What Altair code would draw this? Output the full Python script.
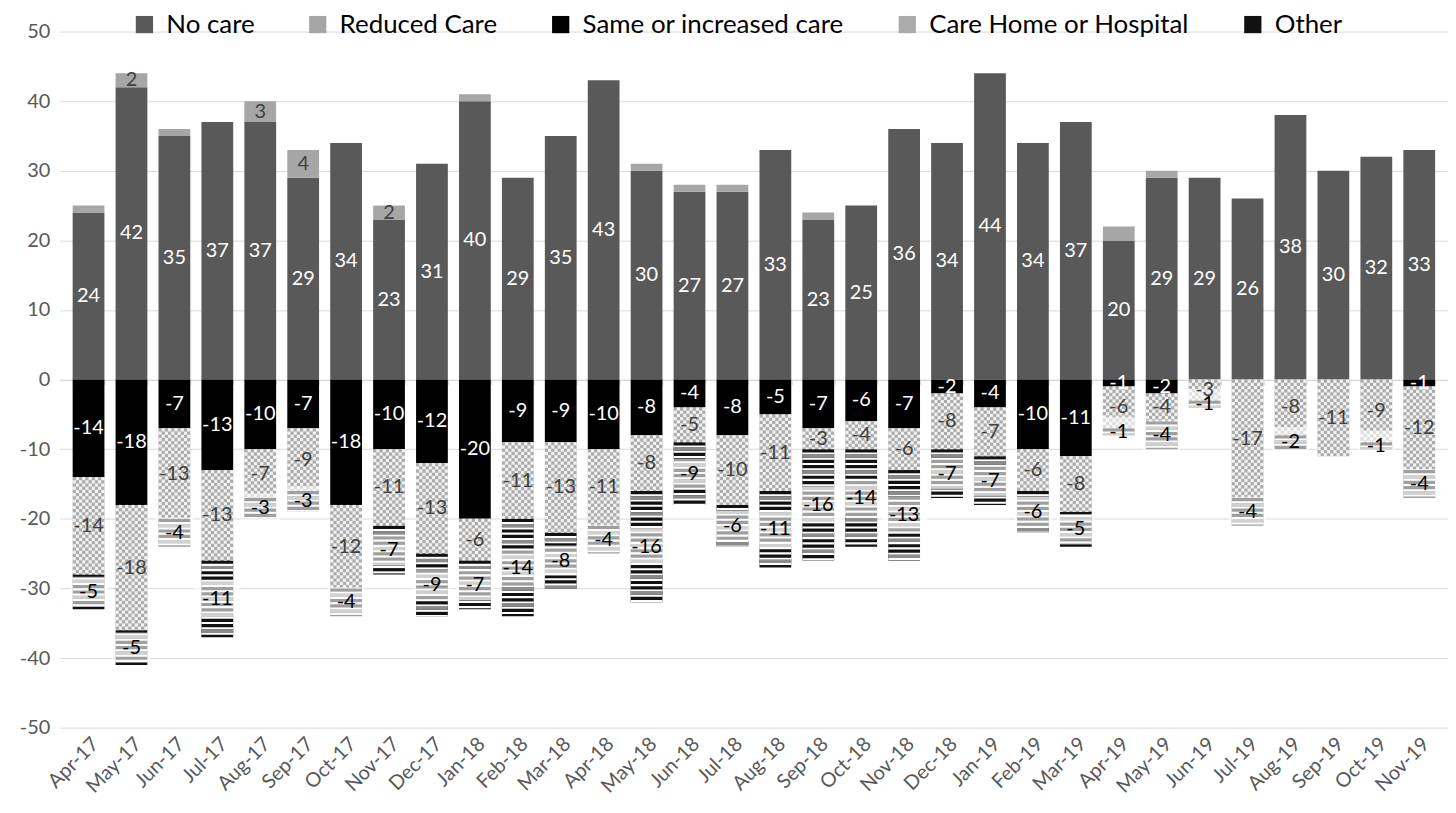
import math
import altair as alt
import pandas as pd

months = ["Apr-17", "May-17", "Jun-17", "Jul-17", "Aug-17", "Sep-17", "Oct-17", "Nov-17", "Dec-17",
          "Jan-18", "Feb-18", "Mar-18", "Apr-18", "May-18", "Jun-18", "Jul-18", "Aug-18", "Sep-18",
          "Oct-18", "Nov-18", "Dec-18", "Jan-19", "Feb-19", "Mar-19", "Apr-19", "May-19", "Jun-19",
          "Jul-19", "Aug-19", "Sep-19", "Oct-19", "Nov-19"]
no_care = [24, 42, 35, 37, 37, 29, 34, 23, 31, 40, 29, 35, 43, 30, 27, 27, 33, 23, 25, 36, 34,
           44, 34, 37, 20, 29, 29, 26, 38, 30, 32, 33]
reduced = [1, 2, 1, 0, 3, 4, 0, 2, 0, 1, 0, 0, 0, 1, 1, 1, 0, 1, 0, 0, 0,
           0, 0, 0, 2, 1, 0, 0, 0, 0, 0, 0]
reduced_labelled = [0, 1, 0, 0, 1, 1, 0, 1, 0, 0, 0, 0, 0, 0, 0, 0, 0, 0, 0, 0, 0,
                    0, 0, 0, 0, 0, 0, 0, 0, 0, 0, 0]
same = [-14, -18, -7, -13, -10, -7, -18, -10, -12, -20, -9, -9, -10, -8, -4, -8, -5, -7, -6, -7, -2,
        -4, -10, -11, -1, -2, 0, 0, 0, 0, 0, -1]
care = [-14, -18, -13, -13, -7, -9, -12, -11, -13, -6, -11, -13, -11, -8, -5, -10, -11, -3, -4, -6, -8,
        -7, -6, -8, -6, -4, -3, -17, -8, -11, -9, -12]
other = [-5, -5, -4, -11, -3, -3, -4, -7, -9, -7, -14, -8, -4, -16, -9, -6, -11, -16, -14, -13, -7,
         -7, -6, -5, -1, -4, -1, -4, -2, 0, -1, -4]

seg_names = ["No care", "Reduced Care", "Same or increased care", "Care Home or Hospital", "Other"]
seg_colors = ["#595959", "#A6A6A6", "#000000", "#ABABAB", "#111111"]
label_colors = ["#FFFFFF", "#404040", "#FFFFFF", "#404040", "#000000"]
y_ticks = [-50, -40, -30, -20, -10, 0, 10, 20, 30, 40, 50]
FONT = "Lato"

seg_rows, lab_rows, cell_rows, stripe_rows = [], [], [], []
for i, m in enumerate(months):
    nc, rc, s, c, o = no_care[i], reduced[i], same[i], care[i], other[i]
    parts = [
        (seg_names[0], 0, nc, True),
        (seg_names[1], nc, nc + rc, bool(reduced_labelled[i])),
        (seg_names[2], 0, s, True),
        (seg_names[3], s, s + c, True),
        (seg_names[4], s + c, s + c + o, True),
    ]
    for name, a, b, show in parts:
        if a == b:
            continue
        seg_rows.append({"month": m, "seg": name, "y0": a, "y1": b})
        if show:
            lab_rows.append({"month": m, "seg": name, "y0": (a + b) / 2, "lab": str(b - a)})
    # checker cells (light squares) over the care-home segment
    if c < 0:
        top, L, h = s, -c, 0.46
        nrows = math.ceil(L / h)
        for r in range(nrows):
            a = top - r * h
            b = max(top - (r + 1) * h, top - L)
            for col in range(10):
                if (r + col) % 2 == 1:
                    cell_rows.append({"month": m, "col": col, "y0": a, "y1": b})
    # horizontal stripes over the "other" segment
    if o < 0:
        top, L, p, dark = s + c, -o, 0.76, 0.46
        k = 0
        while k * p < L:
            if k * p + dark < L:
                stripe_rows.append({"month": m, "kind": "gap", "y0": top - (k * p + dark),
                                    "y1": top - min((k + 1) * p, L)})
            if k % 3 == 1:
                stripe_rows.append({"month": m, "kind": "grey", "y0": top - k * p,
                                    "y1": top - min(k * p + dark, L)})
            k += 1

segs = pd.DataFrame(seg_rows)
labs = pd.DataFrame(lab_rows)
cells = pd.DataFrame(cell_rows)
stripes = pd.DataFrame(stripe_rows)
other_labs = labs[labs["seg"] == "Other"]
zero_df = pd.DataFrame({"month": months, "y0": [0] * len(months)})

xscale = alt.Scale(domain=months, paddingInner=0.26, paddingOuter=0.3)
yscale = alt.Scale(domain=[-50, 50], nice=False, zero=False)
Y_AXIS = alt.Axis(title=None, values=y_ticks, grid=True, gridColor="#D9D9D9",
                  domain=False, ticks=False, labelFontSize=20, labelFont=FONT,
                  labelColor="#595959", labelPadding=10)


def yenc():
    return alt.Y("y0:Q", scale=yscale, axis=Y_AXIS)


x_main = alt.X("month:N", sort=months, scale=xscale,
               axis=alt.Axis(title=None, labelAngle=-45, labelFontSize=20, labelFont=FONT,
                             labelColor="#595959", domain=False, ticks=False, labelPadding=6,
                             grid=False))
x_none = alt.X("month:N", sort=months, scale=xscale, axis=None)

bars = alt.Chart(segs).mark_bar().encode(
    x=x_main,
    y=yenc(),
    y2="y1:Q",
    fill=alt.Fill("seg:N", scale=alt.Scale(domain=seg_names, range=seg_colors),
                  legend=alt.Legend(title=None, orient="none", legendX=72, legendY=-20,
                                    direction="horizontal", columns=5, symbolType="square",
                                    symbolSize=300, symbolStrokeWidth=0, labelFontSize=26,
                                    labelFont=FONT, labelColor="#000000", columnPadding=50,
                                    labelOffset=9, labelLimit=0)),
)

zero_axis = alt.Chart(zero_df).mark_point(opacity=0).encode(
    x=alt.X("month:N", sort=months, scale=xscale,
            axis=alt.Axis(title=None, orient="bottom", offset=-349.5, labels=False, ticks=True,
                          tickSize=5, tickColor="#D9D9D9", domain=True, domainColor="#D9D9D9",
                          tickBand="extent", grid=False)),
    y=yenc(),
)

checker = alt.Chart(cells).mark_bar(color="#F2F2F2").encode(
    x=x_none,
    xOffset=alt.XOffset("col:N", scale=alt.Scale(domain=list(range(10)), paddingInner=0,
                                                 paddingOuter=0)),
    y=yenc(),
    y2="y1:Q",
)

stripe_layer = alt.Chart(stripes).mark_bar().encode(
    x=x_none,
    y=yenc(),
    y2="y1:Q",
    color=alt.Color("kind:N", scale=alt.Scale(domain=["gap", "grey"], range=["#FFFFFF", "#8C8C8C"]),
                    legend=None),
)

boxes = alt.Chart(other_labs).mark_point(
    shape="M-1,-0.8L1,-0.8L1,0.8L-1,0.8Z", filled=True, color="#FFFFFF", opacity=0.6,
    strokeWidth=0).encode(
    x=x_none,
    y=yenc(),
    size=alt.condition("length(datum.lab) > 2", alt.value(2116), alt.value(1444)),
)

texts = alt.Chart(labs).mark_text(fontSize=20, font=FONT, baseline="middle", align="center").encode(
    x=x_none,
    y=yenc(),
    text="lab:N",
    color=alt.Color("seg:N", scale=alt.Scale(domain=seg_names, range=label_colors), legend=None),
)

chart = alt.layer(bars, zero_axis, checker, stripe_layer, boxes, texts).resolve_axis(
    x="independent", y="shared"
).resolve_scale(x="shared", y="shared", color="independent").properties(
    width=1394, height=699,
    autosize=alt.AutoSizeParams(type="none"),
    padding={"left": 52, "top": 22, "right": 0, "bottom": 70},
).configure(
    background="#FFFFFF",
    locale=alt.Locale(number=alt.NumberLocale(decimal=".", thousands=",", grouping=[3],
                                              currency=["", ""], minus="-")),
).configure_view(stroke=None)

chart.save("out.html", embed_options={"renderer": "svg", "actions": False})
